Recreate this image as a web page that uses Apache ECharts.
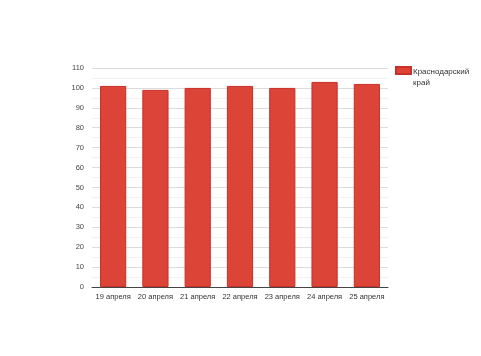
<!DOCTYPE html>
<html><head><meta charset="utf-8">
<script src="https://cdn.jsdelivr.net/npm/echarts@6/dist/echarts.min.js"></script>
<style>html,body{margin:0;padding:0;background:#fff}#c{width:481px;height:356px}</style>
</head><body><div id="c"></div>
<script>
const categories = ["19 апреля","20 апреля","21 апреля","22 апреля","23 апреля","24 апреля","25 апреля"];
const seriesName = "Краснодарский край";
const values = [101, 99, 100, 101, 100, 103, 102];
const chart = echarts.init(document.getElementById('c'));
chart.setOption({
  animation: false,
  textStyle: {fontFamily: 'Liberation Sans, Arial, sans-serif'},
  legend: {
    show: true, left: 390, top: 61, orient: 'vertical',
    itemWidth: 15, itemHeight: 20, itemGap: 4,
    formatter: () => 'Краснодарский\nкрай',
    textStyle: {fontSize: 8, color: '#333', lineHeight: 11, padding: [0, 0, 0, -3]},
    data: [{name: seriesName, icon: 'path://M0,0L15,0L15,7L0,7Z M0,20L0,20'}]
  },
  grid: {left: 92, right: 93, top: 68, bottom: 69},
  xAxis: {
    type: 'category', data: categories,
    axisLine: {lineStyle: {color: '#444'}},
    axisTick: {show: false},
    axisLabel: {fontSize: 7.5, color: '#333', margin: 6, interval: 0}
  },
  yAxis: {
    type: 'value', min: 0, max: 110, interval: 10,
    axisLine: {show: false}, axisTick: {show: false},
    axisLabel: {fontSize: 7.5, color: '#444', margin: 8},
    splitLine: {lineStyle: {color: '#dcdcdc'}},
    minorTick: {show: false, splitNumber: 2},
    minorSplitLine: {show: true, lineStyle: {color: '#f2f2f2'}}
  },
  series: [{
    name: seriesName, type: 'bar', data: values, barWidth: '62%',
    itemStyle: {color: '#db4437', borderColor: '#c9302a', borderWidth: 1}
  }]
});
</script></body></html>
